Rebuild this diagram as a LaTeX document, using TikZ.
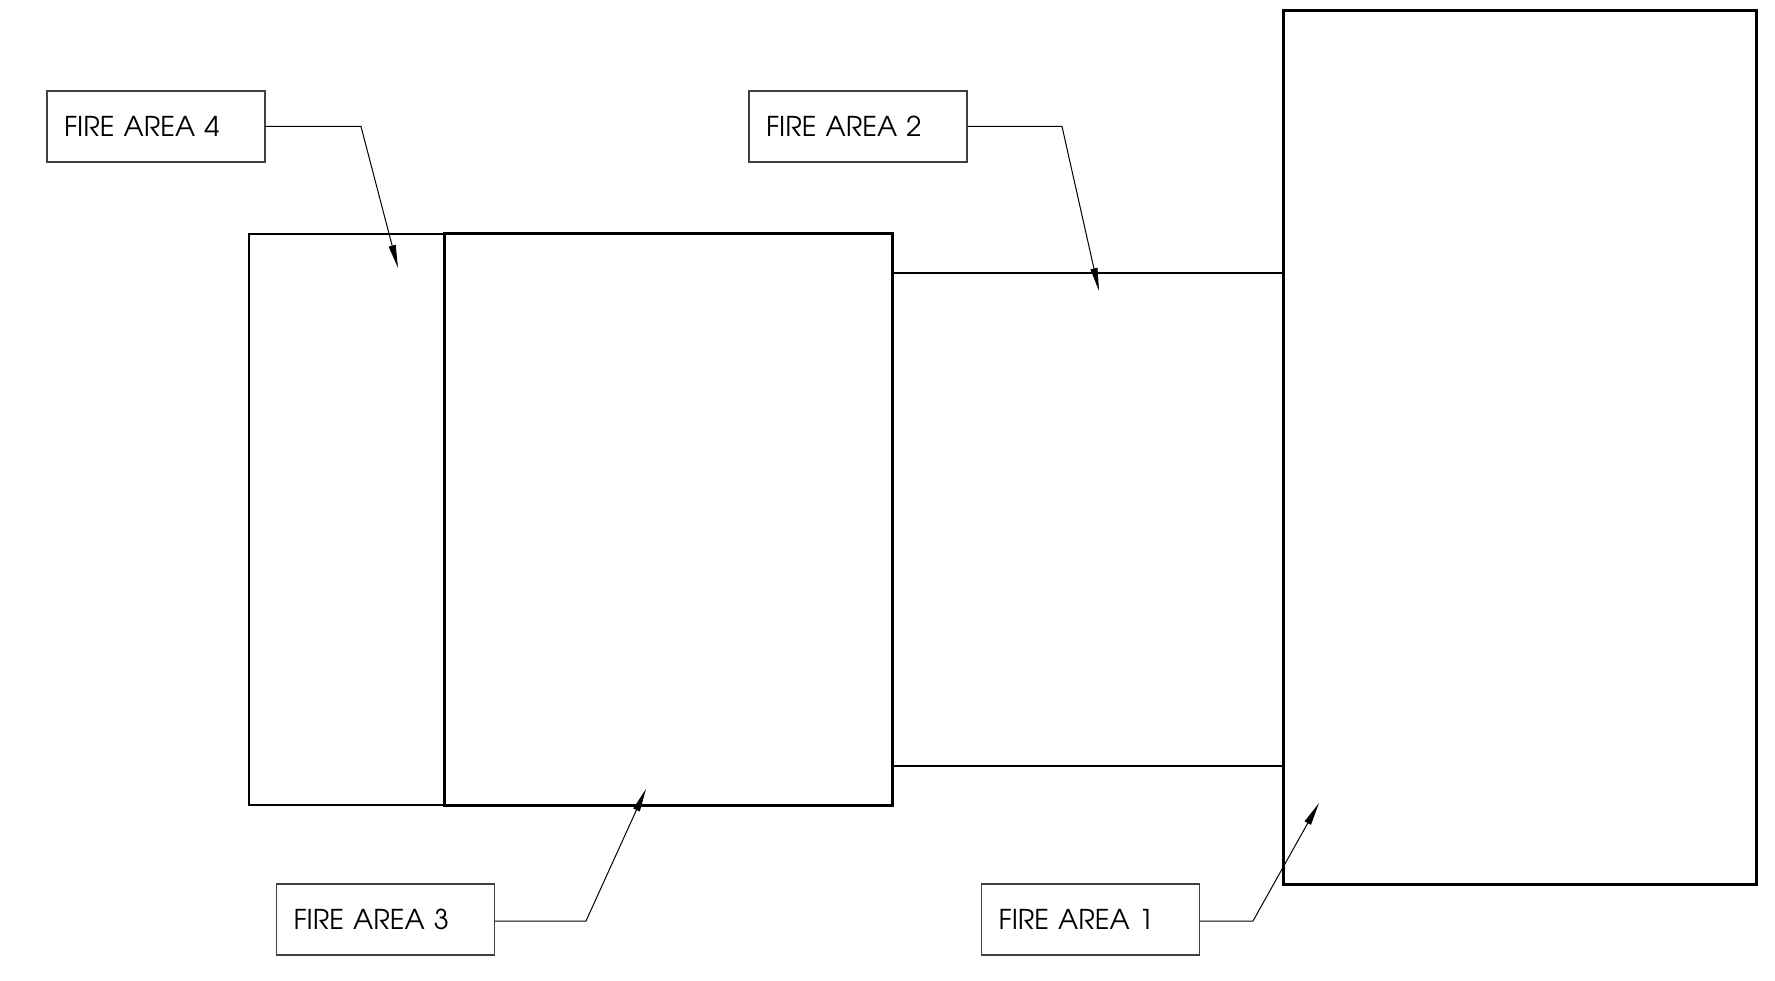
\documentclass[tikz,border=0pt]{standalone}
\usepackage{fontspec}
\setmainfont{texgyreadventor-regular.otf}
\usetikzlibrary{arrows.meta}
\begin{document}
\begin{tikzpicture}[x=1pt,y=-1pt,
  lbl/.style={draw=black!75,line width=1.3pt,rectangle,inner xsep=17pt,inner ysep=0pt,
    text width=184pt,align=left,minimum height=71pt,font=\fontsize{27.3}{32}\selectfont},
  leader/.style={line width=1pt,-{Triangle[length=23pt,width=7pt]}},
  thickwall/.style={line width=3pt},
  thinwall/.style={line width=1.3pt},
  midwall/.style={line width=2pt}]
\useasboundingbox (0,0) rectangle (1775,981);
% areas
\draw[thinwall] (444,234) -- (249,234) -- (249,805) -- (444,805);
\draw[thickwall] (444,234) rectangle (892,805);
\draw[midwall] (892,273) -- (1283,273);
\draw[midwall] (892,766) -- (1283,766);
\draw[thickwall] (1283,11) rectangle (1756,884);
% labels
\node[lbl] (fa4) at (156,126.5) {FIRE AREA 4};
\node[lbl] (fa2) at (858,126.5) {FIRE AREA 2};
\node[lbl] (fa3) at (385.5,919.5) {FIRE AREA 3};
\node[lbl] (fa1) at (1090.5,919.5) {FIRE AREA 1};
% leader points
\coordinate (e4) at (361,126.5); \coordinate (t4) at (398,268);
\coordinate (e2) at (1062,126.5); \coordinate (t2) at (1099,291);
\coordinate (e3) at (586,921); \coordinate (t3) at (646,789);
\coordinate (e1) at (1253,921); \coordinate (t1) at (1319,803);
\draw[leader] (fa4.east) -- (e4) -- (t4);
\draw[leader] (fa2.east) -- (e2) -- (t2);
\draw[leader] (fa3.east |- e3) -- (e3) -- (t3);
\draw[leader] (fa1.east |- e1) -- (e1) -- (t1);
\end{tikzpicture}
\end{document}
